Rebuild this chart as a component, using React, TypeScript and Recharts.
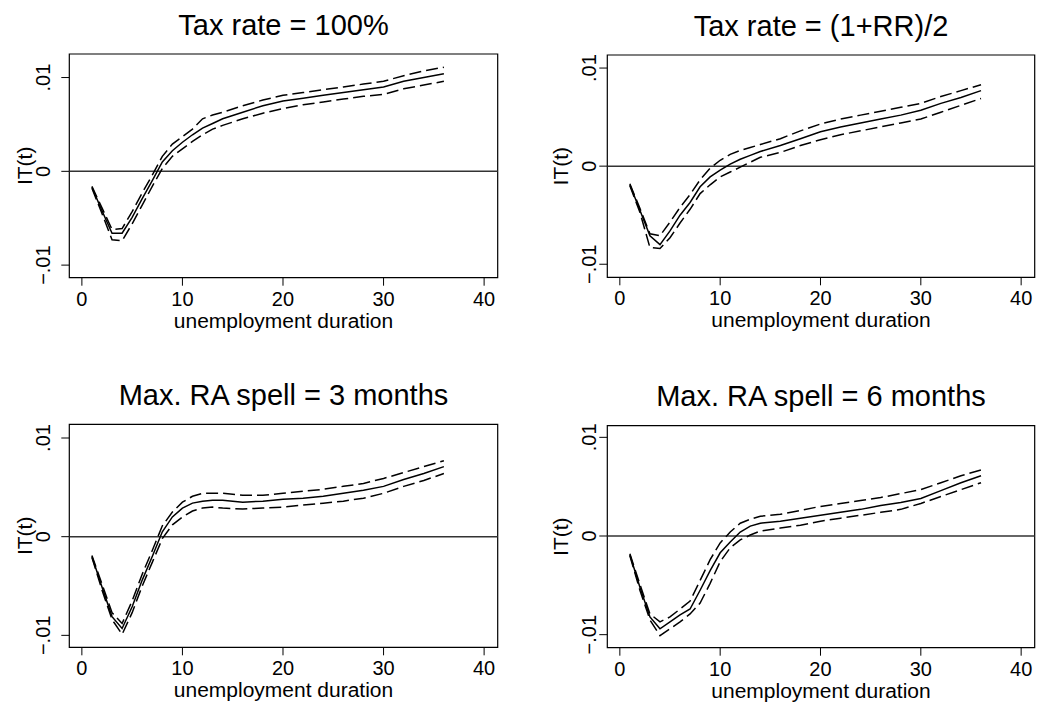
import React from "react";
import { LineChart, Line, XAxis, YAxis, ReferenceLine, ReferenceArea, Label } from "recharts";

// months of unemployment at which the curves were read
const T = [1, 2, 3, 4, 5, 6, 7, 8, 9, 10, 11, 12, 13, 14, 16, 18, 20, 22, 24, 26, 28, 30, 32, 34, 36];

const X_TICKS = [0, 10, 20, 30, 40];
const Y_TICKS = [-0.01, 0, 0.01];

const TITLES = [
  "Tax rate = 100%",
  "Tax rate = (1+RR)/2",
  "Max. RA spell = 3 months",
  "Max. RA spell = 6 months",
];

// Tax rate = 100%
const tax100Est = [-0.0017, -0.0042, -0.0066, -0.0066, -0.0049, -0.0029, -0.001, 0.001, 0.0022, 0.0031, 0.0039, 0.0046, 0.0051, 0.0056, 0.0063, 0.007, 0.0075, 0.0078, 0.0081, 0.0084, 0.0087, 0.009, 0.0096, 0.01, 0.0104];
const tax100Hi = [-0.0016, -0.0039, -0.0062, -0.0061, -0.0043, -0.0023, -0.0004, 0.0016, 0.0029, 0.0037, 0.0045, 0.0056, 0.006, 0.0063, 0.007, 0.0076, 0.0081, 0.0084, 0.0087, 0.009, 0.0093, 0.0096, 0.0102, 0.0107, 0.0111];
const tax100Lo = [-0.0018, -0.0045, -0.0073, -0.0074, -0.0056, -0.0036, -0.0016, 0.0003, 0.0016, 0.0024, 0.0032, 0.0039, 0.0045, 0.0049, 0.0056, 0.0062, 0.0067, 0.0071, 0.0074, 0.0077, 0.008, 0.0082, 0.0088, 0.0092, 0.0096];

// Tax rate = (1+RR)/2
const taxRREst = [-0.0019, -0.0045, -0.0071, -0.008, -0.0066, -0.005, -0.0037, -0.0021, -0.0011, -0.0004, 0.0002, 0.0007, 0.0011, 0.0015, 0.0021, 0.0028, 0.0035, 0.004, 0.0044, 0.0048, 0.0052, 0.0057, 0.0064, 0.007, 0.0077];
const taxRRHi = [-0.0018, -0.0043, -0.0069, -0.0071, -0.0057, -0.0042, -0.0029, -0.0014, -0.0002, 0.0006, 0.0012, 0.0016, 0.0019, 0.0022, 0.0028, 0.0036, 0.0043, 0.0048, 0.0052, 0.0056, 0.006, 0.0064, 0.0071, 0.0077, 0.0083];
const taxRRLo = [-0.002, -0.0047, -0.0083, -0.0084, -0.0073, -0.0058, -0.0044, -0.0028, -0.0019, -0.0011, -0.0006, -0.0001, 0.0004, 0.0009, 0.0014, 0.0021, 0.0027, 0.0032, 0.0036, 0.004, 0.0044, 0.0048, 0.0055, 0.0062, 0.0069];

// Max. RA spell = 3 months
const ra3Est = [-0.002, -0.0051, -0.0081, -0.0093, -0.0071, -0.0044, -0.002, 0.0005, 0.002, 0.0029, 0.0034, 0.0036, 0.0037, 0.0037, 0.0035, 0.0036, 0.0038, 0.0039, 0.0041, 0.0044, 0.0047, 0.0051, 0.0058, 0.0064, 0.0071];
const ra3Hi = [-0.0019, -0.0048, -0.0077, -0.0088, -0.0065, -0.0038, -0.0014, 0.0011, 0.0025, 0.0035, 0.0041, 0.0044, 0.0044, 0.0044, 0.0042, 0.0042, 0.0044, 0.0046, 0.0048, 0.0051, 0.0054, 0.0059, 0.0065, 0.0071, 0.0077];
const ra3Lo = [-0.0021, -0.0054, -0.0084, -0.0099, -0.0077, -0.005, -0.0026, -0.0002, 0.0012, 0.002, 0.0026, 0.0029, 0.003, 0.0029, 0.0028, 0.0029, 0.003, 0.0032, 0.0034, 0.0036, 0.0039, 0.0044, 0.0051, 0.0057, 0.0064];

// Max. RA spell = 6 months
const ra6Est = [-0.0019, -0.0052, -0.0082, -0.0094, -0.0087, -0.008, -0.0074, -0.0055, -0.0035, -0.0017, -0.0006, 0.0004, 0.001, 0.0013, 0.0015, 0.0018, 0.0021, 0.0024, 0.0027, 0.0031, 0.0034, 0.0038, 0.0046, 0.0054, 0.0061];
const ra6Hi = [-0.0018, -0.0049, -0.0079, -0.0087, -0.0082, -0.0074, -0.0066, -0.0045, -0.0024, -0.0007, 0.0004, 0.0013, 0.0017, 0.002, 0.0022, 0.0026, 0.003, 0.0033, 0.0036, 0.0039, 0.0043, 0.0047, 0.0054, 0.0061, 0.0067];
const ra6Lo = [-0.002, -0.0055, -0.0085, -0.0101, -0.0094, -0.0087, -0.0079, -0.0068, -0.0048, -0.0026, -0.0012, -0.0004, 0.0001, 0.0005, 0.0008, 0.0011, 0.0015, 0.0018, 0.0021, 0.0024, 0.0027, 0.0033, 0.004, 0.0047, 0.0054];

const FONT = "'Liberation Sans', Arial, Helvetica, sans-serif";
const X_DOMAIN = [-1.25, 41.35];

// layout of the four graphs (local pixel positions of each plot box)
const layout = [
  { left: 0, top: 0, plotLeft: 69.3, plotRight: 497.7, plotTop: 54, plotBottom: 277.7, yDomain: [-0.01134, 0.01251], tickGap: 19.5, labelGap: 37 },
  { left: 519, top: 0, plotLeft: 88.3, plotRight: 515.7, plotTop: 55, plotBottom: 277.3, yDomain: [-0.01133, 0.01133], tickGap: 11, labelGap: 39.5 },
  { left: 0, top: 360, plotLeft: 69.3, plotRight: 497.7, plotTop: 64.3, plotBottom: 287.3, yDomain: [-0.01121, 0.01139], tickGap: 19.5, labelGap: 37 },
  { left: 519, top: 360, plotLeft: 88.3, plotRight: 515.7, plotTop: 65.7, plotBottom: 287.7, yDomain: [-0.01132, 0.01118], tickGap: 11, labelGap: 39.5 },
];

const series = [
  [tax100Est, tax100Hi, tax100Lo],
  [taxRREst, taxRRHi, taxRRLo],
  [ra3Est, ra3Hi, ra3Lo],
  [ra6Est, ra6Hi, ra6Lo],
];

const fmtY = (v: number) => (v === 0 ? "0" : (v < 0 ? "\u2212" : "") + String(Math.abs(v)).replace(/^0/, ""));

function Panel({ idx }: { idx: number }) {
  const box = layout[idx];
  const [est, hi, lo] = series[idx];
  const rows = T.map((t, i) => ({ t, est: est[i], hi: hi[i], lo: lo[i] }));
  const width = 519;
  const height = box.plotBottom + 60;
  const yw = 60;
  const midY = (box.plotTop + box.plotBottom) / 2;
  const midX = (box.plotLeft + box.plotRight) / 2;
  const tickX = box.plotLeft - box.tickGap;
  const labelX = box.plotLeft - box.labelGap;

  const yTick = (p: any) => (
    <text
      x={tickX}
      y={p.y}
      transform={`rotate(-90 ${tickX} ${p.y})`}
      textAnchor="middle"
      fontSize={20}
      fill="#000"
      fontFamily={FONT}
    >
      {fmtY(p.payload.value)}
    </text>
  );

  return (
    <div style={{ position: "absolute", left: box.left, top: box.top, width, height }}>
      <div
        style={{
          position: "absolute",
          left: box.plotLeft,
          width: box.plotRight - box.plotLeft,
          top: box.plotTop - 43.5,
          textAlign: "center",
          fontSize: 29,
          lineHeight: "29px",
          fontFamily: FONT,
          whiteSpace: "nowrap",
          color: "#000",
        }}
      >
        {TITLES[idx]}
      </div>
      <LineChart
        width={width}
        height={height}
        data={rows}
        margin={{ top: box.plotTop, right: width - box.plotRight, left: box.plotLeft - yw, bottom: 0 }}
      >
        <XAxis
          dataKey="t"
          type="number"
          domain={X_DOMAIN}
          ticks={X_TICKS}
          allowDataOverflow
          height={60}
          axisLine={false}
          tickLine={{ stroke: "#000", strokeWidth: 1 }}
          tickSize={8}
          tickMargin={6}
          tick={{ fill: "#000", fontSize: 20, fontFamily: FONT }}
        >
          <Label
            value="unemployment duration"
            content={() => (
              <text x={midX} y={box.plotBottom + 50} textAnchor="middle" fontSize={21} fill="#000" fontFamily={FONT}>
                unemployment duration
              </text>
            )}
          />
        </XAxis>
        <YAxis
          type="number"
          domain={box.yDomain}
          ticks={Y_TICKS}
          allowDataOverflow
          width={yw}
          axisLine={false}
          tickLine={{ stroke: "#000", strokeWidth: 1 }}
          tickSize={8}
          tickMargin={0}
          tick={yTick}
        >
          <Label
            value="IT(t)"
            content={() => (
              <text
                x={labelX}
                y={midY}
                transform={`rotate(-90 ${labelX} ${midY})`}
                textAnchor="middle"
                fontSize={21}
                fill="#000"
                fontFamily={FONT}
              >
                IT(t)
              </text>
            )}
          />
        </YAxis>
        <ReferenceArea
          x1={X_DOMAIN[0]}
          x2={X_DOMAIN[1]}
          y1={box.yDomain[0]}
          y2={box.yDomain[1]}
          fill="none"
          stroke="#000"
          strokeWidth={1.2}
        />
        <ReferenceLine y={0} stroke="#333" strokeWidth={1.5} />
        <Line dataKey="hi" type="linear" stroke="#000" strokeWidth={1.5} strokeDasharray="12 5" dot={false} isAnimationActive={false} />
        <Line dataKey="lo" type="linear" stroke="#000" strokeWidth={1.5} strokeDasharray="12 5" dot={false} isAnimationActive={false} />
        <Line dataKey="est" type="linear" stroke="#000" strokeWidth={1.5} dot={false} isAnimationActive={false} />
      </LineChart>
    </div>
  );
}

export default function App() {
  return (
    <div style={{ position: "absolute", left: 0, top: 0, width: 1038, height: 709, background: "#fff", overflow: "hidden" }}>
      {layout.map((_, i) => (
        <Panel key={i} idx={i} />
      ))}
    </div>
  );
}
